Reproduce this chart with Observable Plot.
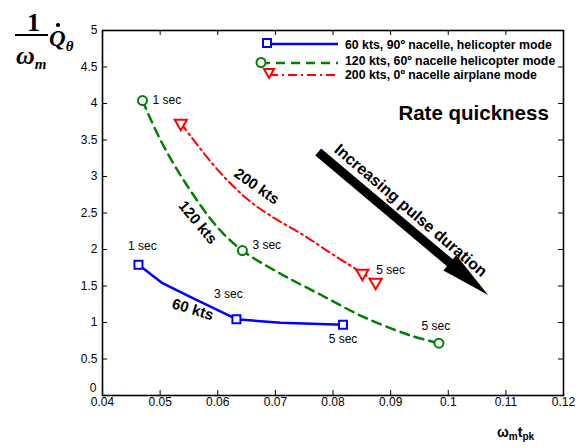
<!DOCTYPE html>
<html><head><meta charset="utf-8">
<script src="https://cdn.jsdelivr.net/npm/d3@7"></script>
<script src="https://cdn.jsdelivr.net/npm/@observablehq/plot@0.6"></script>
<style>
html,body{margin:0;padding:0;background:#fff;}
#wrap{position:relative;width:588px;height:448px;font-family:"Liberation Sans",Arial,sans-serif;overflow:hidden;}
#wrap > svg{position:absolute;left:0;top:0;}
.ov{position:absolute;white-space:nowrap;line-height:1;color:#000;}
.serif{font-family:"Liberation Serif","Times New Roman",serif;}
</style></head><body><div id="wrap"></div>
<script>
// ---- axis ticks ----
const xTicks = [0.04, 0.05, 0.06, 0.07, 0.08, 0.09, 0.10, 0.11, 0.12];
const xTickLabels = ["0.04", "0.05", "0.06", "0.07", "0.08", "0.09", "0.1", "0.11", "0.12"];
const yTicks = [0, 0.5, 1, 1.5, 2, 2.5, 3, 3.5, 4, 4.5, 5];
const yTickLabels = ["0", "0.5", "1", "1.5", "2", "2.5", "3", "3.5", "4", "4.5", "5"];

// ---- series: 60 kts (blue) ----
const blueX = [0.04624, 0.05041, 0.05531, 0.06324, 0.07092, 0.08173];
const blueY = [1.790, 1.538, 1.347, 1.045, 0.996, 0.968];
const blueMarkX = [0.04624, 0.06324, 0.08173];
const blueMarkY = [1.790, 1.045, 0.968];

// ---- series: 120 kts (green) ----
const greenX = [0.04694, 0.05011, 0.05445, 0.06000, 0.06428, 0.07092, 0.07786, 0.08537, 0.09347, 0.09838];
const greenY = [4.040, 3.493, 2.904, 2.300, 1.986, 1.667, 1.380, 1.073, 0.822, 0.716];
const greenMarkX = [0.04694, 0.06428, 0.09838];
const greenMarkY = [4.040, 1.986, 0.716];

// ---- series: 200 kts (red) ----
const redX = [0.05358, 0.06000, 0.06500, 0.06900, 0.07500, 0.08000, 0.08509, 0.08740];
const redY = [3.730, 3.090, 2.700, 2.470, 2.190, 1.930, 1.675, 1.552];
const redMarkX = [0.05358, 0.08509, 0.08740];
const redMarkY = [3.730, 1.675, 1.552];

// ---- legend ----
const legendLabels = ["60 kts, 90\u00ba nacelle, helicopter mode", "120 kts, 60\u00ba nacelle helicopter mode", "200 kts, 0\u00ba nacelle airplane mode"];

// ---- annotations (data coordinates) ----
const annText = ["200 kts", "120 kts", "60 kts"];
const annX = [0.06676, 0.05653, 0.05566];
const annY = [2.863, 2.370, 1.178];
const annRot = [35, 50, 17];
const arrowFrom = [0.07752, 3.329];
const arrowTo = [0.10700, 1.370];

const zip = (xs, ys) => xs.map((x, i) => ({x, y: ys[i]}));
const blue = zip(blueX, blueY), green = zip(greenX, greenY), red = zip(redX, redY);
const blueM = zip(blueMarkX, blueMarkY), greenM = zip(greenMarkX, greenMarkY), redM = zip(redMarkX, redMarkY);
const ann = annText.map((t, i) => ({t, x: annX[i], y: annY[i], r: annRot[i]}));

const W = 588, H = 448, mL = 102, mR = 25, mT = 30, mB = 53;
const fW = W - mL - mR, fH = H - mT - mB;
const BLUE = "#0000ff", GREEN = "#008000", RED = "#ff0000";

function lbl(pt, text, opts) {
  return Plot.text([pt], {x: "x", y: "y", text: () => text, fontSize: 12, fill: "black", ...opts});
}

// filled block arrow drawn through the plot's scales
function blockArrow(index, scales) {
  const x1 = scales.x(arrowFrom[0]), y1 = scales.y(arrowFrom[1]);
  const x2 = scales.x(arrowTo[0]), y2 = scales.y(arrowTo[1]);
  const L = Math.hypot(x2 - x1, y2 - y1), ux = (x2 - x1) / L, uy = (y2 - y1) / L;
  const nx = -uy, ny = ux, hw = 4.5, hh = 10, hl = 50;
  const bx = x2 - ux * hl, by = y2 - uy * hl;
  const pts = [
    [x1 + nx * hw, y1 + ny * hw], [bx + nx * hw, by + ny * hw], [bx + nx * hh, by + ny * hh],
    [x2, y2], [bx - nx * hh, by - ny * hh], [bx - nx * hw, by - ny * hw], [x1 - nx * hw, y1 - ny * hw]
  ];
  const p = document.createElementNS("http://www.w3.org/2000/svg", "path");
  p.setAttribute("d", "M" + pts.map(q => q.join(",")).join("L") + "Z");
  p.setAttribute("fill", "black");
  return p;
}

const plot = Plot.plot({
  width: W, height: H,
  marginLeft: mL, marginRight: mR, marginTop: mT, marginBottom: mB,
  x: {domain: [0.04, 0.12]},
  y: {domain: [0, 5]},
  style: {fontFamily: "'Liberation Sans', Arial, sans-serif", fontSize: "12px", color: "black", background: "white", overflow: "visible"},
  marks: [
    Plot.axisX(xTicks, {anchor: "bottom", tickSize: 0, tickPadding: 2, label: null, fontSize: 12, tickFormat: d => xTickLabels[xTicks.indexOf(d)]}),
    Plot.axisY(yTicks.slice(1), {anchor: "left", tickSize: 0, tickPadding: 5, label: null, fontSize: 12, tickFormat: d => yTickLabels[yTicks.indexOf(d)]}),
    Plot.text([yTicks[0]], {y: d => d, frameAnchor: "left", textAnchor: "end", dx: -6, dy: -7, text: d => yTickLabels[0], fontSize: 12, fill: "black"}),
    Plot.tickX(xTicks, {x: d => d, insetTop: fH - 5, stroke: "black", strokeWidth: 1}),
    Plot.tickX(xTicks, {x: d => d, insetBottom: fH - 5, stroke: "black", strokeWidth: 1}),
    Plot.tickY(yTicks, {y: d => d, insetRight: fW - 5, stroke: "black", strokeWidth: 1}),
    Plot.tickY(yTicks, {y: d => d, insetLeft: fW - 5, stroke: "black", strokeWidth: 1}),
    Plot.frame({stroke: "black", strokeWidth: 1.6}),
    Plot.line(green, {x: "x", y: "y", stroke: GREEN, strokeWidth: 2.5, strokeDasharray: "9,6", curve: "catmull-rom"}),
    Plot.line(red, {x: "x", y: "y", stroke: RED, strokeWidth: 2, strokeDasharray: "9,4,2,4", curve: "catmull-rom"}),
    Plot.line(blue, {x: "x", y: "y", stroke: BLUE, strokeWidth: 2.5}),
    Plot.dot(blueM, {x: "x", y: "y", symbol: "square", r: 4.5, stroke: BLUE, strokeWidth: 2, fill: "white"}),
    Plot.dot(greenM, {x: "x", y: "y", symbol: "circle", r: 4.5, stroke: GREEN, strokeWidth: 2, fill: "white"}),
    Plot.dot(redM, {x: "x", y: "y", symbol: "triangle", rotate: 180, r: 4.5, stroke: RED, strokeWidth: 2, fill: "white"}),
    lbl(blueM[0], "1 sec", {dx: 4, dy: -19}),
    lbl(blueM[1], "3 sec", {dx: -8, dy: -25}),
    lbl(blueM[2], "5 sec", {dx: 0, dy: 14}),
    lbl(greenM[0], "1 sec", {dx: 10, dy: 0, textAnchor: "start"}),
    lbl(greenM[1], "3 sec", {dx: 10, dy: -5, textAnchor: "start"}),
    lbl(greenM[2], "5 sec", {dx: -3, dy: -17}),
    lbl(redM[1], "5 sec", {dx: 14, dy: -3, textAnchor: "start"}),
    Plot.text(ann, {x: "x", y: "y", text: "t", rotate: "r", fontSize: 15, fontWeight: "bold", fill: "black"}),
    Plot.text(["Rate quickness"], {x: () => 0.1044, y: () => 3.863, text: d => d, fontSize: 20.5, fontWeight: "bold", fill: "black"}),
    Plot.dot([0], {x: () => arrowFrom[0], y: () => arrowFrom[1], r: 0, render: blockArrow}),
    Plot.text(["Increasing pulse duration"], {x: () => 0.09295, y: () => 2.479, text: d => d, rotate: 40.5, fontSize: 16, fontWeight: "bold", fill: "black", dx: 3, dy: -4})
  ]
});

const wrap = document.getElementById("wrap");
wrap.appendChild(plot);

// legend overlay
const ns = "http://www.w3.org/2000/svg";
const lg = document.createElementNS(ns, "svg");
lg.setAttribute("width", W); lg.setAttribute("height", H);
lg.style.pointerEvents = "none";
const rows = [
  {y: 44, ty: 45, color: BLUE, dash: null, w: 2.5, mx: 267, my: 43, sym: "square"},
  {y: 63, ty: 61, color: GREEN, dash: "9,6", w: 2.5, mx: 261, my: 62.5, sym: "circle"},
  {y: 75, ty: 75, color: RED, dash: "9,4,2,4", w: 2, mx: 269, my: 73, sym: "triangle"}
];
rows.forEach((r, i) => {
  const ln = document.createElementNS(ns, "line");
  ln.setAttribute("x1", r.mx); ln.setAttribute("x2", 338);
  ln.setAttribute("y1", r.y); ln.setAttribute("y2", r.y);
  ln.setAttribute("stroke", r.color); ln.setAttribute("stroke-width", r.w);
  if (r.dash) ln.setAttribute("stroke-dasharray", r.dash);
  lg.appendChild(ln);
  let m;
  if (r.sym === "square") {
    m = document.createElementNS(ns, "rect");
    m.setAttribute("x", r.mx - 4); m.setAttribute("y", r.my - 4);
    m.setAttribute("width", 8); m.setAttribute("height", 8);
  } else if (r.sym === "circle") {
    m = document.createElementNS(ns, "circle");
    m.setAttribute("cx", r.mx); m.setAttribute("cy", r.my); m.setAttribute("r", 4.5);
  } else {
    m = document.createElementNS(ns, "path");
    m.setAttribute("d", `M${r.mx - 5},${r.my - 4}L${r.mx + 5},${r.my - 4}L${r.mx},${r.my + 5}Z`);
  }
  m.setAttribute("fill", "white"); m.setAttribute("stroke", r.color); m.setAttribute("stroke-width", 2);
  lg.appendChild(m);
  const t = document.createElementNS(ns, "text");
  t.setAttribute("x", 345); t.setAttribute("y", r.ty);
  t.setAttribute("dy", "0.35em");
  t.setAttribute("font-family", "'Liberation Sans', Arial, sans-serif");
  t.setAttribute("font-size", 12.3); t.setAttribute("font-weight", "bold");
  t.textContent = legendLabels[i];
  lg.appendChild(t);
});
wrap.appendChild(lg);

// y-axis label (1/ω_m · Q̇_θ) and x-axis label (ω_m t_pk)
const yl = document.createElement("div");
yl.innerHTML = `
<div class="ov serif" style="left:27px;top:10px;font-size:26px;font-weight:bold;">1</div>
<div style="position:absolute;left:15px;top:34px;width:33px;height:2px;background:#000"></div>
<div class="ov serif" style="left:16px;top:43px;font-size:26px;font-weight:bold;font-style:italic;">ω<span style="font-size:15px;position:relative;top:5px;">m</span></div>
<div class="ov serif" style="left:49px;top:27px;font-size:23px;font-weight:bold;font-style:italic;">Q<span style="font-size:15px;position:relative;top:5px;">θ</span></div>
<div style="position:absolute;left:56px;top:23px;width:3.5px;height:3.5px;border-radius:50%;background:#000"></div>
<div class="ov" style="left:497px;top:425px;font-size:14px;font-weight:bold;">ω<span style="font-size:10px;position:relative;top:3px;">m</span>t<span style="font-size:10px;position:relative;top:3px;">pk</span></div>
`;
wrap.appendChild(yl);
</script></body></html>
